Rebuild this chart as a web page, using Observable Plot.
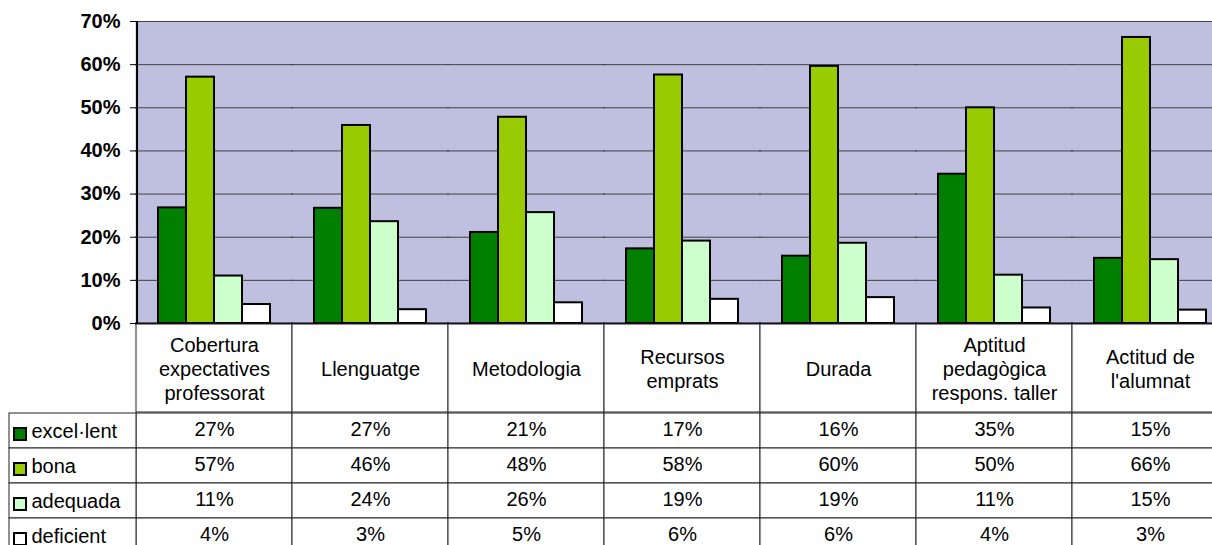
<!DOCTYPE html>
<html><head><meta charset="utf-8">
<script src="https://cdn.jsdelivr.net/npm/d3@7"></script>
<script src="https://cdn.jsdelivr.net/npm/@observablehq/plot@0.6"></script>
<style>
html,body{margin:0;padding:0;background:#fff;overflow:hidden;}
#chart svg{display:block;max-width:none !important;overflow:visible;}
</style></head><body>
<svg width="0" height="0" style="position:absolute"><defs>
<pattern id="dots" x="0" y="0" width="2" height="2" patternUnits="userSpaceOnUse">
<rect width="2" height="2" fill="#ffffff"/><rect width="1" height="1" fill="#000080"/>
</pattern></defs></svg>
<div id="chart"></div>
<script>
const categories = ["Cobertura expectatives professorat","Llenguatge","Metodologia","Recursos emprats","Durada","Aptitud pedagògica respons. taller","Actitud de l'alumnat"];
const categoryLabels = ["Cobertura\nexpectatives\nprofessorat","Llenguatge","Metodologia","Recursos\nemprats","Durada","Aptitud\npedagògica\nrespons. taller","Actitud de\nl'alumnat"];
const series = ["excel·lent","bona","adequada","deficient"];
const colors = ["#008000","#99CC00","#CCFFCC","#FFFFFF"];
const excelLent = [0.268, 0.267, 0.211, 0.173, 0.156, 0.346, 0.151];
const bona      = [0.571, 0.459, 0.478, 0.576, 0.596, 0.500, 0.663];
const adequada  = [0.110, 0.236, 0.257, 0.191, 0.186, 0.112, 0.148];
const deficient = [0.044, 0.032, 0.048, 0.056, 0.060, 0.036, 0.031];
const yTicks = [0, 0.1, 0.2, 0.3, 0.4, 0.5, 0.6, 0.7];

const seriesValues = [excelLent, bona, adequada, deficient];
const data = categories.flatMap((c, i) => series.map((s, j) => ({category: c, series: s, value: seriesValues[j][i]})));
const pct = d3.format(".0%");
const FONT = "'Liberation Sans', Arial, sans-serif";
const colW = 156, left = 136, W = left + colW * categories.length;
const step = colW / (series.length + 1.5);

const chart = Plot.plot({
  width: W, height: 324, marginLeft: left, marginRight: 0, marginTop: 21, marginBottom: 1,
  style: {fontFamily: FONT, fontSize: "20px", background: "transparent", color: "black"},
  fx: {domain: categories, padding: 0, axis: null, label: null},
  x: {domain: series, paddingInner: 0, paddingOuter: 0.75, axis: null, label: null},
  y: {domain: [0, 0.7], axis: null},
  color: {domain: series, range: colors},
  marks: [
    Plot.frame({fill: "url(#dots)", stroke: "none", insetLeft: -1, insetRight: -1}),
    Plot.gridY(yTicks.slice(1), {stroke: "#404040", strokeOpacity: 1, strokeWidth: 1, insetLeft: -1, insetRight: -1}),
    Plot.barY(data, {fx: "category", x: "series", y: "value", fill: "series", stroke: "black", strokeWidth: 2}),
    Plot.ruleY([0], {stroke: "black", strokeWidth: 2, insetLeft: -1, insetRight: -1}),
    Plot.ruleX([categories[0]], {fx: d => d, x: () => series[0], dx: -(0.75 + 0.5) * step, stroke: "black", strokeWidth: 2}),
    Plot.axisY(yTicks, {tickSize: 6, tickPadding: 10, tickFormat: pct, fontWeight: "bold", fontSize: 20, label: null})
  ]
});

const header = Plot.plot({
  width: W, height: 88, marginLeft: left, marginRight: 0, marginTop: 0, marginBottom: 0,
  style: {fontFamily: FONT, fontSize: "20px", background: "transparent", color: "black"},
  x: {domain: categories, padding: 0, axis: null},
  marks: [
    Plot.cell(categories, {x: d => d, fill: "white", stroke: "#222", strokeWidth: 1}),
    Plot.text(categories, {x: d => d, text: (d, i) => categoryLabels[i], lineHeight: 1.2, fontSize: 20, fill: "black"})
  ]
});

const table = Plot.plot({
  width: W, height: 141, marginLeft: left, marginRight: 0, marginTop: 0, marginBottom: 0,
  style: {fontFamily: FONT, fontSize: "20px", background: "transparent", color: "black"},
  x: {domain: categories, padding: 0, axis: null},
  y: {domain: series, padding: 0, axis: null},
  color: {domain: series, range: colors},
  marks: [
    Plot.cell(data, {x: "category", y: "series", fill: "white", stroke: "#222", strokeWidth: 1}),
    Plot.cell(series, {x: () => categories[0], y: d => d, insetLeft: -(left - 9), insetRight: colW, fill: "white", stroke: "#222", strokeWidth: 1}),
    Plot.cell(series, {x: () => categories[0], y: d => d, insetLeft: -(left - 14), insetRight: colW + (left - 26), insetTop: 15, insetBottom: 8, fill: d => d, stroke: "black", strokeWidth: 2}),
    Plot.text(series, {x: () => categories[0], y: d => d, text: d => d, textAnchor: "start", dx: -(left + colW / 2 - 31), dy: 1, fontSize: 20, fill: "black"}),
    Plot.text(data, {x: "category", y: "series", text: d => pct(d.value), fontSize: 20, fill: "black", dy: -1})
  ]
});

const root = document.getElementById("chart");
for (const s of [chart, header, table]) { s.style.maxWidth = "none"; s.style.display = "block"; root.appendChild(s); }
</script>
</body></html>
